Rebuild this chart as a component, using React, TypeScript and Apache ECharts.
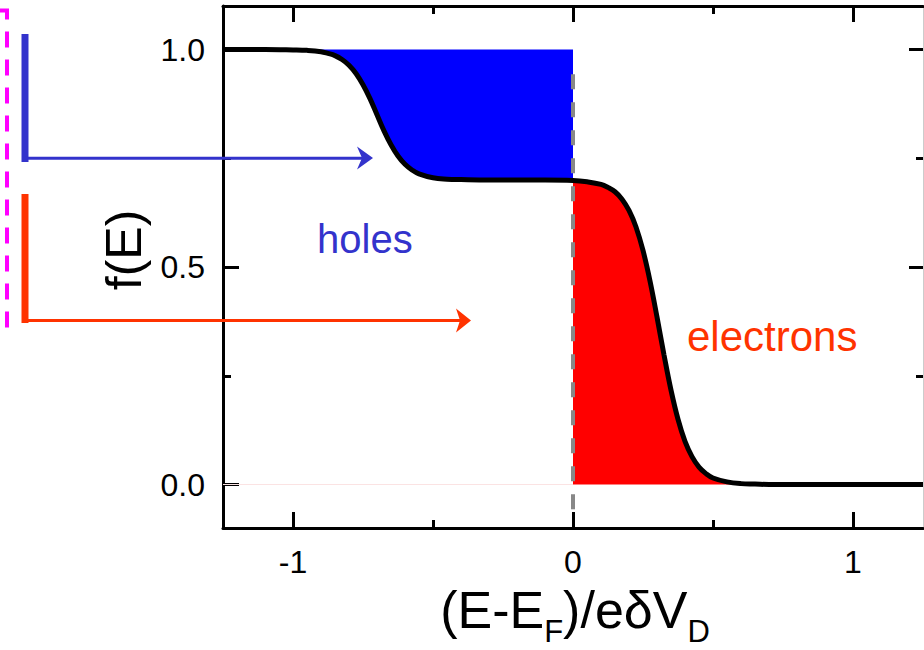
import React, { useEffect, useRef } from "react";
import * as echarts from "echarts";

// ---- data ----
const energy = [
  -1.25, -1.1, -1.0, -0.95, -0.9, -0.875, -0.85, -0.825, -0.8, -0.775, -0.75, -0.725, -0.7,
  -0.675, -0.65, -0.625, -0.6, -0.575, -0.55, -0.5, -0.45, -0.4, -0.3, -0.2, -0.1, 0, 0.05,
  0.1, 0.125, 0.15, 0.175, 0.2, 0.225, 0.25, 0.275, 0.3, 0.325, 0.35, 0.375, 0.4, 0.425,
  0.45, 0.475, 0.5, 0.55, 0.6, 0.65, 0.7, 0.8, 1.0, 1.25,
];
const occupation = [
  1.0, 1.0, 0.999, 0.998, 0.995, 0.991, 0.986, 0.977, 0.964, 0.945, 0.919, 0.887, 0.85,
  0.813, 0.781, 0.755, 0.736, 0.723, 0.714, 0.705, 0.702, 0.701, 0.7, 0.7, 0.7, 0.699, 0.696,
  0.69, 0.683, 0.673, 0.656, 0.63, 0.592, 0.538, 0.468, 0.385, 0.298, 0.217, 0.15, 0.099, 0.064,
  0.04, 0.025, 0.015, 0.006, 0.002, 0.001, 0.0, 0.0, 0.0, 0.0,
];
const xRange = [-1.25, 1.25];
const yRange = [-0.1, 1.1];
const xMajorTicks = [-1, 0, 1];
const xMinorTicks = [-0.5, 0.5];
const yMajorTicks = [0, 0.5, 1];
const yMinorTicks = [0.25, 0.75];
const holesRange = [-1.0, 0];
const electronsRange = [0, 0.7];
const fermiLevel = 0;
const fermiLineSpan = [0.943, -0.06];
const baselineSpan = [-1.25, 0];
const fullOccupation = 1;
// x-axis title pieces: [text, isSubscript]
const xTitleParts: [string, boolean][] = [
  ["(E-E", false],
  ["F", true],
  [")/eδV", false],
  ["D", true],
];

const FONT = "'Liberation Sans', Arial, Helvetica, sans-serif";

export default function App() {
  const ref = useRef<HTMLDivElement>(null);

  useEffect(() => {
    if (!ref.current) return;
    const chart = echarts.init(ref.current, null, { renderer: "svg" });

    const curve = energy.map((x, i) => [x, occupation[i]]);
    const holesBase = curve.filter(([x]) => x >= holesRange[0] && x <= holesRange[1]);
    const holesTop = holesBase.map(([x]) => [x, fullOccupation]);
    const electrons = curve.filter(([x]) => x >= electronsRange[0] && x <= electronsRange[1]);

    const mkX = (position: string, ticks: number[], len: number, showLine: boolean, labels: boolean) => ({
      type: "value",
      min: xRange[0],
      max: xRange[1],
      position,
      axisLine: { show: showLine, onZero: false, lineStyle: { color: "#000", width: 3 } },
      axisTick: { show: true, inside: true, length: len, customValues: ticks, lineStyle: { color: "#000", width: 3 } },
      axisLabel: labels
        ? { show: true, customValues: ticks, margin: 18, fontSize: 32, color: "#000", fontFamily: FONT, formatter: (v: number) => String(v) }
        : { show: false },
      splitLine: { show: false },
    });
    const mkY = (position: string, ticks: number[], len: number, showLine: boolean, labels: boolean, lineColor = "#000", lineWidth = 3) => ({
      type: "value",
      min: yRange[0],
      max: yRange[1],
      position,
      axisLine: { show: showLine, onZero: false, lineStyle: { color: lineColor, width: lineWidth } },
      axisTick: { show: true, inside: true, length: len, customValues: ticks, lineStyle: { color: "#000", width: 3 } },
      axisLabel: labels
        ? { show: true, customValues: ticks, margin: 18, fontSize: 32, color: "#000", fontFamily: FONT, formatter: (v: number) => v.toFixed(1) }
        : { show: false },
      splitLine: { show: false },
    });

    // x-axis title laid out piece by piece
    const MAIN = 52;
    const SUB = 31;
    const measureCanvas = document.createElement("canvas").getContext("2d")!;
    const widthOf = (t: string, size: number) => {
      measureCanvas.font = `${size}px ${FONT}`;
      return measureCanvas.measureText(t).width;
    };
    const widths = xTitleParts.map(([t, sub]) => widthOf(t, sub ? SUB : MAIN));
    const total = widths.reduce((a, b) => a + b, 0);
    const titleCenterX = 575;
    const mainMidY = 610;
    const subMidY = 631;
    let cursor = titleCenterX - total / 2;
    const titleTexts = xTitleParts.map(([t, sub], i) => {
      const el = {
        type: "text", z: 10, x: cursor, y: sub ? subMidY : mainMidY,
        style: { text: t, fontSize: sub ? SUB : MAIN, fontFamily: FONT, fill: "#000", align: "left", verticalAlign: "middle" },
      };
      cursor += widths[i];
      return el;
    });

    const SMOOTH = 0.4;

    const option: any = {
      animation: false,
      backgroundColor: "#fff",
      grid: { left: 223, top: 6, width: 700, height: 522, containLabel: false },
      xAxis: [
        mkX("bottom", xMajorTicks, 16, true, true),
        mkX("bottom", xMinorTicks, 8, false, false),
        mkX("top", xMajorTicks, 16, true, false),
        mkX("top", xMinorTicks, 8, false, false),
      ],
      yAxis: [
        mkY("left", yMajorTicks, 16, true, true),
        mkY("left", yMinorTicks, 8, false, false),
        mkY("right", yMajorTicks, 14, true, false, "#cccccc", 1),
        mkY("right", yMinorTicks, 7, false, false),
      ],
      series: [
        {
          // holes: blue region up to full occupation ...
          type: "line", data: holesTop, symbol: "none",
          lineStyle: { opacity: 0, width: 0 }, areaStyle: { color: "#0000FF", opacity: 1 }, silent: true, z: 1,
        },
        {
          // ... with the part under f(E) cleared back to white
          type: "line", data: holesBase, symbol: "none", smooth: SMOOTH,
          lineStyle: { opacity: 0, width: 0 }, areaStyle: { color: "#FFFFFF", opacity: 1 }, silent: true, z: 1,
        },
        {
          type: "line", data: electrons, symbol: "none", smooth: SMOOTH,
          lineStyle: { opacity: 0, width: 0 }, areaStyle: { color: "#FF0000", opacity: 1 }, silent: true, z: 1,
        },
        {
          type: "line", data: baselineSpan.map((x) => [x, 0]), symbol: "none",
          lineStyle: { color: "#fbe3e3", width: 1 }, silent: true, z: 1,
        },
        {
          type: "line", data: curve, symbol: "none", smooth: SMOOTH,
          lineStyle: { color: "#000", width: 5 }, silent: true, z: 4,
        },
        {
          type: "line", data: fermiLineSpan.map((y) => [fermiLevel, y]), symbol: "none",
          lineStyle: { color: "#888888", width: 4, type: [15, 13] }, silent: true, z: 3,
        },
      ],
      graphic: [
        {
          type: "polyline", z: 10,
          shape: { points: [[0, 10.5], [7, 10.5], [7, 328]] },
          style: { stroke: "#FF00FF", lineWidth: 4, lineDash: [16, 12], fill: null },
        },
        { type: "line", z: 10, shape: { x1: 25, y1: 34, x2: 25, y2: 162 }, style: { stroke: "#3333CC", lineWidth: 7 } },
        { type: "line", z: 10, shape: { x1: 25, y1: 158.3, x2: 362, y2: 158.3 }, style: { stroke: "#3333CC", lineWidth: 3 } },
        { type: "polygon", z: 10, shape: { points: [[373, 158], [357, 146.5], [362, 158], [357, 169.5]] }, style: { fill: "#3333CC" } },
        { type: "line", z: 10, shape: { x1: 25, y1: 194, x2: 25, y2: 323 }, style: { stroke: "#FF3300", lineWidth: 7 } },
        { type: "line", z: 10, shape: { x1: 25, y1: 320.5, x2: 460, y2: 320.5 }, style: { stroke: "#FF3300", lineWidth: 3 } },
        { type: "polygon", z: 10, shape: { points: [[471, 320.5], [456, 308.5], [460, 320.5], [456, 332.5]] }, style: { fill: "#FF3300" } },
        {
          type: "text", z: 10, x: 317, y: 239,
          style: { text: "holes", fontSize: 40, fontFamily: FONT, fill: "#3333CC", align: "left", verticalAlign: "middle" },
        },
        {
          type: "text", z: 10, x: 687, y: 336,
          style: { text: "electrons", fontSize: 42, fontFamily: FONT, fill: "#FF3300", align: "left", verticalAlign: "middle" },
        },
        {
          type: "text", z: 10, x: 124, y: 250, rotation: Math.PI / 2,
          style: { text: "f(E)", fontSize: 50, fontFamily: FONT, fill: "#000", align: "center", verticalAlign: "middle" },
        },
        ...titleTexts,
      ],
    };

    chart.setOption(option);
    return () => chart.dispose();
  }, []);

  return (
    <div
      ref={ref}
      style={{ position: "fixed", left: 0, top: 0, width: 924, height: 650, background: "#fff" }}
    />
  );
}
